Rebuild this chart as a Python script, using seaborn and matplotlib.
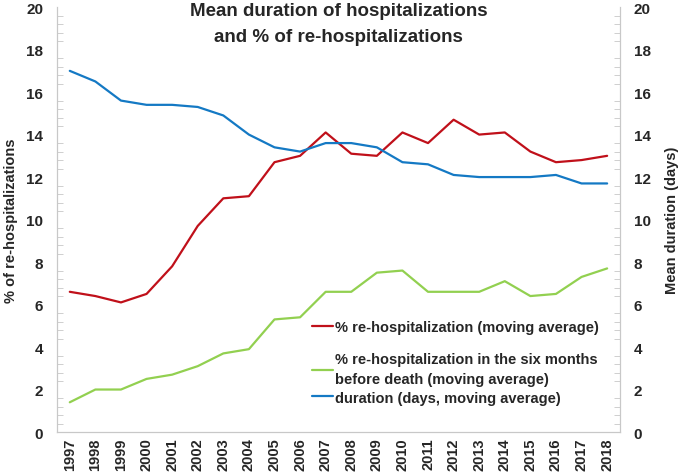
import numpy as np
import pandas as pd
import matplotlib.pyplot as plt
import seaborn as sns
from matplotlib.ticker import MultipleLocator

years = list(range(1997, 2019))
rehosp = [6.6, 6.4, 6.1, 6.5, 7.8, 9.7, 11.0, 11.1, 12.7, 13.0, 14.1,
          13.1, 13.0, 14.1, 13.6, 14.7, 14.0, 14.1, 13.2, 12.7, 12.8, 13.0]
rehosp_death = [1.4, 2.0, 2.0, 2.5, 2.7, 3.1, 3.7, 3.9, 5.3, 5.4, 6.6,
                6.6, 7.5, 7.6, 6.6, 6.6, 6.6, 7.1, 6.4, 6.5, 7.3, 7.7]
duration = [17.0, 16.5, 15.6, 15.4, 15.4, 15.3, 14.9, 14.0, 13.4, 13.2, 13.6,
            13.6, 13.4, 12.7, 12.6, 12.1, 12.0, 12.0, 12.0, 12.1, 11.7, 11.7]

labels = ["% re-hospitalization (moving average)",
          "% re-hospitalization in the six months\nbefore death (moving average)",
          "duration (days, moving average)"]

df = pd.DataFrame({"year": years, "rehosp": rehosp,
                   "rehosp_death": rehosp_death, "duration": duration})

sns.set_style("white")
plt.rcParams['font.family'] = ['Liberation Sans', 'DejaVu Sans']
plt.rcParams['font.weight'] = 'bold'

red = "#C0101A"
green = "#92D050"
blue = "#1479C4"
grey = "#C8C8C8"

fig, ax = plt.subplots(figsize=(6.85, 4.77), dpi=100)
fig.subplots_adjust(left=0.0832, right=0.905, top=0.983, bottom=0.0922)
ax2 = ax.twinx()

sns.lineplot(data=df, x="year", y="rehosp", color=red, lw=1.6, ax=ax, label=labels[0])
sns.lineplot(data=df, x="year", y="rehosp_death", color=green, lw=1.6, ax=ax, label=labels[1])
sns.lineplot(data=df, x="year", y="duration", color=blue, lw=1.6, ax=ax2, label=labels[2])

for a in (ax, ax2):
    a.set_ylim(0, 20)
    a.set_xlim(1996.5, 2018.5)
    a.yaxis.set_major_locator(MultipleLocator(2))
    a.yaxis.set_minor_locator(MultipleLocator(0.4))
    a.tick_params(axis='y', which='both', direction='in', color=grey, labelsize=11)
    a.tick_params(axis='y', which='major', length=0, pad=10)
    a.tick_params(axis='y', which='minor', length=4)
    a.spines['top'].set_visible(False)
    for s in ('left', 'right', 'bottom'):
        a.spines[s].set_color(grey)
    for lbl in a.get_yticklabels():
        lbl.set_fontweight('bold')

ax.set_xticks(years)
ax.set_xticklabels([str(y) for y in years], rotation=90, fontsize=10.5, fontweight='bold')
ax.xaxis.set_minor_locator(MultipleLocator(0.5))
ax.tick_params(axis='x', which='both', direction='in', color=grey, length=4, pad=4)

ax.set_xlabel("")
ax.set_ylabel("% of re-hospitalizations", fontsize=10.5, fontweight='bold', labelpad=6)
ax2.set_ylabel("Mean duration (days)", fontsize=10.5, fontweight='bold', labelpad=10)
ax2.set_xlabel("")

ax.set_title("Mean duration of hospitalizations\nand % of re-hospitalizations",
             fontsize=13.5, fontweight='bold', y=1.012, pad=0, va='top', linespacing=1.7)

h1, l1 = ax.get_legend_handles_labels()
h2, l2 = ax2.get_legend_handles_labels()
ax2.get_legend().remove()
leg1 = ax.legend(h1[:1], l1[:1], loc='upper left', bbox_to_anchor=(0.453, 0.263),
                 frameon=False, fontsize=10.5, handlelength=1.45, handletextpad=0.15,
                 borderpad=0, borderaxespad=0)
ax.add_artist(leg1)
leg2 = ax.legend(h1[1:] + h2, l1[1:] + l2, loc='upper left', bbox_to_anchor=(0.453, 0.188),
                 frameon=False, fontsize=10.5, handlelength=1.45, handletextpad=0.15,
                 labelspacing=0.3, borderpad=0, borderaxespad=0)
for leg in (leg1, leg2):
    for t in leg.get_texts():
        t.set_fontweight('bold')
        t.set_linespacing(1.55)

plt.savefig("out.png", dpi=100)
